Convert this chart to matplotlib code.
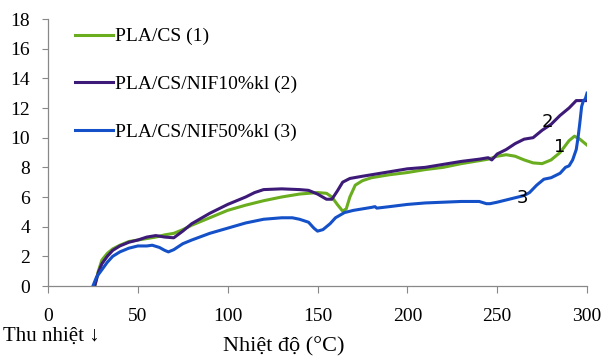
import matplotlib
matplotlib.use("Agg")
import matplotlib.pyplot as plt

# Data
t1 = [26,28,30,33,36,40,45,50,55,60,65,70,75,80,90,100,110,120,130,140,150,155,158,161,164,166,168,171,175,180,190,200,210,220,230,240,245,250,255,260,265,270,275,280,285,290,293,296,300]
v1 = [0,1.0,1.75,2.2,2.5,2.75,3.0,3.1,3.2,3.3,3.45,3.55,3.8,4.1,4.6,5.1,5.45,5.75,6.0,6.2,6.3,6.25,6.0,5.5,5.05,5.2,6.0,6.8,7.1,7.3,7.5,7.65,7.85,8.0,8.25,8.45,8.55,8.75,8.85,8.75,8.5,8.3,8.25,8.5,9.0,9.8,10.1,9.9,9.5]

t2 = [26,28,30,33,36,40,45,50,55,60,65,70,75,80,90,100,110,115,120,130,140,145,150,155,158,161,164,168,175,180,190,200,210,220,230,240,245,247,250,255,260,265,270,275,280,285,290,294,298,300]
v2 = [0,0.9,1.5,2.0,2.4,2.7,2.95,3.1,3.3,3.4,3.3,3.25,3.7,4.2,4.9,5.5,6.0,6.3,6.5,6.55,6.5,6.45,6.2,5.85,5.85,6.4,7.0,7.25,7.4,7.5,7.7,7.9,8.0,8.2,8.4,8.55,8.65,8.5,8.9,9.2,9.6,9.9,10.0,10.5,10.9,11.5,12.0,12.5,12.5,12.5]

t3 = [25,27,30,33,36,40,45,50,55,58,62,65,67,70,75,80,90,100,110,120,130,136,140,145,148,150,153,157,160,165,170,175,180,182,183,190,200,210,220,230,240,244,246,250,255,260,265,268,272,276,280,285,288,290,292,294,295,296,297,298,299,300]
v3 = [0,0.6,1.1,1.6,2.0,2.3,2.55,2.7,2.7,2.75,2.6,2.4,2.3,2.45,2.85,3.1,3.55,3.9,4.25,4.5,4.6,4.6,4.5,4.3,3.9,3.7,3.8,4.2,4.6,4.95,5.1,5.2,5.3,5.35,5.25,5.35,5.5,5.6,5.65,5.7,5.7,5.55,5.55,5.65,5.8,5.95,6.1,6.3,6.8,7.2,7.3,7.6,8.0,8.1,8.5,9.2,10.0,11.0,12.1,12.5,12.6,13.0]

labels = ["PLA/CS (1)", "PLA/CS/NIF10%kl (2)", "PLA/CS/NIF50%kl (3)"]
colors = ["#6aad1e", "#3d1a78", "#1450c8"]
x_ticks = [0, 50, 100, 150, 200, 250, 300]
y_ticks = [0, 2, 4, 6, 8, 10, 12, 14, 16, 18]

serif = ["Liberation Serif", "DejaVu Serif"]

fig = plt.figure(figsize=(6.03, 3.56), dpi=100)
ax = fig.add_axes([0.0796, 0.1966, 0.8939, 0.75])

for t, v, c, lab in zip([t1, t2, t3], [v1, v2, v3], colors, labels):
    ax.plot(t, v, color=c, lw=2.2, label=lab)

ax.set_xlim(0, 300)
ax.set_ylim(0, 18)
ax.set_xticks(x_ticks)
ax.set_yticks(y_ticks)
for s in ["top", "right"]:
    ax.spines[s].set_visible(False)
for s in ["left", "bottom"]:
    ax.spines[s].set_color("#888888")
    ax.spines[s].set_linewidth(0.9)
ax.tick_params(axis="x", length=5, color="#888888", pad=11)
ax.tick_params(axis="y", length=4, color="#888888", pad=9)
for lbl in ax.get_xticklabels() + ax.get_yticklabels():
    lbl.set_fontfamily(serif)
    lbl.set_fontsize(14)

leg = ax.legend(loc="upper left", bbox_to_anchor=(0.124, 0.922), bbox_transform=fig.transFigure,
                frameon=False, prop={"family": serif, "size": 14},
                handlelength=1.95, handletextpad=0.1, labelspacing=1.55, borderpad=0,
                borderaxespad=0)

ax.text(277.7, 11.06, "2", fontsize=13, family="DejaVu Sans", ha="center", va="center")
ax.text(284.9, 9.37, "1", fontsize=13, family="DejaVu Sans", ha="center", va="center")
ax.text(263.8, 5.93, "3", fontsize=13, family="DejaVu Sans", ha="center", va="center")

fig.text(284 / 603, 1 - 347 / 356, "Nhiệt độ (°C)", family=serif, fontsize=16, ha="center", va="center")
fig.text(0.005, 1 - 336 / 356, "Thu nhiệt ↓", family=serif, fontsize=15, ha="left", va="center")

fig.savefig("out.png", dpi=100)
